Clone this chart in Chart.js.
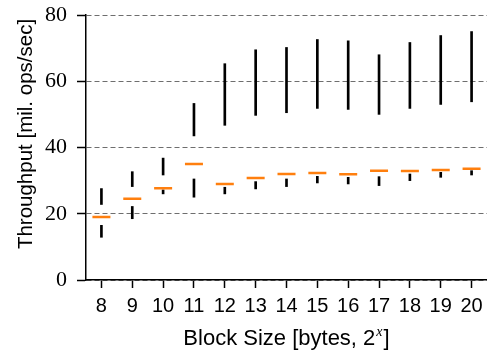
<!DOCTYPE html>
<html>
<head>
<meta charset="utf-8">
<title>Throughput by block size</title>
<script src="https://cdn.jsdelivr.net/npm/chart.js@4.4.1/dist/chart.umd.min.js"></script>
<style>
    html, body { margin: 0; padding: 0; background: #fff; }
    #wrap { width: 487px; height: 354px; position: relative; }
</style>
</head>
<body>
<div id="wrap"><canvas id="throughputChart"></canvas></div>
<script>
// block size exponents (2^x bytes)
const blockSizes = ["8", "9", "10", "11", "12", "13", "14", "15", "16", "17", "18", "19", "20"];

// throughput distribution per block size, mil. ops/sec
const minVals    = [12.9, 18.5, 26.0, 25.0, 26.0, 27.5, 28.2, 29.3, 29.0, 28.5, 30.0, 31.0, 31.7];
const q1Vals     = [16.5, 22.2, 27.2, 30.5, 28.0, 29.7, 30.5, 31.3, 31.0, 31.2, 32.0, 32.5, 33.0];
const medianVals = [19.0, 24.5, 27.7, 35.0, 29.0, 30.8, 32.0, 32.3, 31.9, 33.0, 32.9, 33.2, 33.6];
const q3Vals     = [22.8, 28.2, 31.7, 43.5, 46.7, 49.7, 50.5, 51.8, 51.5, 50.0, 51.8, 53.0, 53.8];
const maxVals    = [27.6, 32.7, 36.8, 53.3, 65.3, 69.5, 70.2, 72.6, 72.2, 68.0, 71.7, 73.8, 75.0];

const yTicks = [0, 20, 40, 60, 80];

const upperWhiskers = q3Vals.map((q, i) => [q, maxVals[i]]);
const lowerWhiskers = minVals.map((m, i) => [m, q1Vals[i]]);

// axis titles drawn by hand so the x label can carry a superscript
const axisTitles = {
    id: "axisTitles",
    afterDraw(chart) {
        const ctx = chart.ctx;
        const area = chart.chartArea;

        ctx.save();
        ctx.fillStyle = "#000";
        ctx.font = '20.5px "Liberation Sans"';
        ctx.textAlign = "center";
        ctx.textBaseline = "alphabetic";
        ctx.translate(32, 134);
        ctx.rotate(-Math.PI / 2);
        ctx.fillText("Throughput [mil. ops/sec]", 0, 0);
        ctx.restore();

        ctx.save();
        ctx.fillStyle = "#000";
        ctx.textAlign = "left";
        ctx.textBaseline = "alphabetic";
        const mainFont = '22px "Liberation Sans"';
        const supFont = 'italic 14px "Liberation Serif"';
        const head = "Block Size [bytes, 2";

        ctx.font = mainFont;
        const w1 = ctx.measureText(head).width;
        const w3 = ctx.measureText("]").width;
        ctx.font = supFont;
        const w2 = ctx.measureText("x").width;

        const total = w1 + w2 + 2 + w3;
        let x = (area.left + area.right) / 2 - total / 2;
        const baseY = 345;

        ctx.font = mainFont;
        ctx.fillText(head, x, baseY);
        x += w1 + 1;
        ctx.font = supFont;
        ctx.fillText("x", x, baseY - 9);
        x += w2 + 1;
        ctx.font = mainFont;
        ctx.fillText("]", x, baseY);
        ctx.restore();
    }
};

new Chart(document.getElementById("throughputChart"), {
    type: "bar",
    data: {
        labels: blockSizes,
        datasets: [
            {
                label: "upper whisker",
                data: upperWhiskers,
                backgroundColor: "#000",
                barThickness: 2,
                grouped: false,
                order: 2
            },
            {
                label: "lower whisker",
                data: lowerWhiskers,
                backgroundColor: "#000",
                barThickness: 2,
                grouped: false,
                order: 2
            },
            {
                type: "line",
                label: "median",
                data: medianVals,
                showLine: false,
                pointStyle: "line",
                pointRadius: 9,
                pointHoverRadius: 9,
                pointBorderWidth: 2.5,
                pointBorderColor: "#ff7f0e",
                pointBackgroundColor: "#ff7f0e",
                order: 1
            }
        ]
    },
    options: {
        responsive: true,
        maintainAspectRatio: false,
        animation: false,
        layout: {
            autoPadding: false,
            padding: { top: 15, right: 0, bottom: 0, left: 0 }
        },
        plugins: {
            legend: { display: false },
            tooltip: { enabled: false }
        },
        scales: {
            x: {
                offset: true,
                grid: {
                    offset: false,
                    drawOnChartArea: false,
                    drawTicks: true,
                    tickLength: 8,
                    tickColor: "#000",
                    tickWidth: 1.5
                },
                border: { display: true, color: "#000", width: 1.5 },
                ticks: {
                    color: "#000",
                    padding: 6,
                    maxRotation: 0,
                    autoSkip: false,
                    font: { family: "Liberation Sans", size: 20 }
                },
                afterFit(scale) {
                    scale.height = 74;
                    scale.paddingLeft = 0;
                    scale.paddingRight = 0;
                }
            },
            y: {
                min: 0,
                max: 80,
                afterBuildTicks(scale) {
                    scale.ticks = yTicks.map(v => ({ value: v }));
                },
                grid: {
                    color: "#6e6e6e",
                    lineWidth: 1,
                    drawTicks: true,
                    tickLength: 9,
                    tickColor: "#000",
                    tickWidth: 1.5,
                    tickBorderDash: []
                },
                border: { display: true, color: "#000", width: 1.5, dash: [5, 3] },
                ticks: {
                    color: "#000",
                    padding: 10,
                    font: { family: "Liberation Serif", size: 22 }
                },
                afterFit(scale) {
                    scale.width = 86;
                    scale.paddingTop = 0;
                    scale.paddingBottom = 0;
                }
            }
        }
    },
    plugins: [axisTitles]
});
</script>
</body>
</html>
